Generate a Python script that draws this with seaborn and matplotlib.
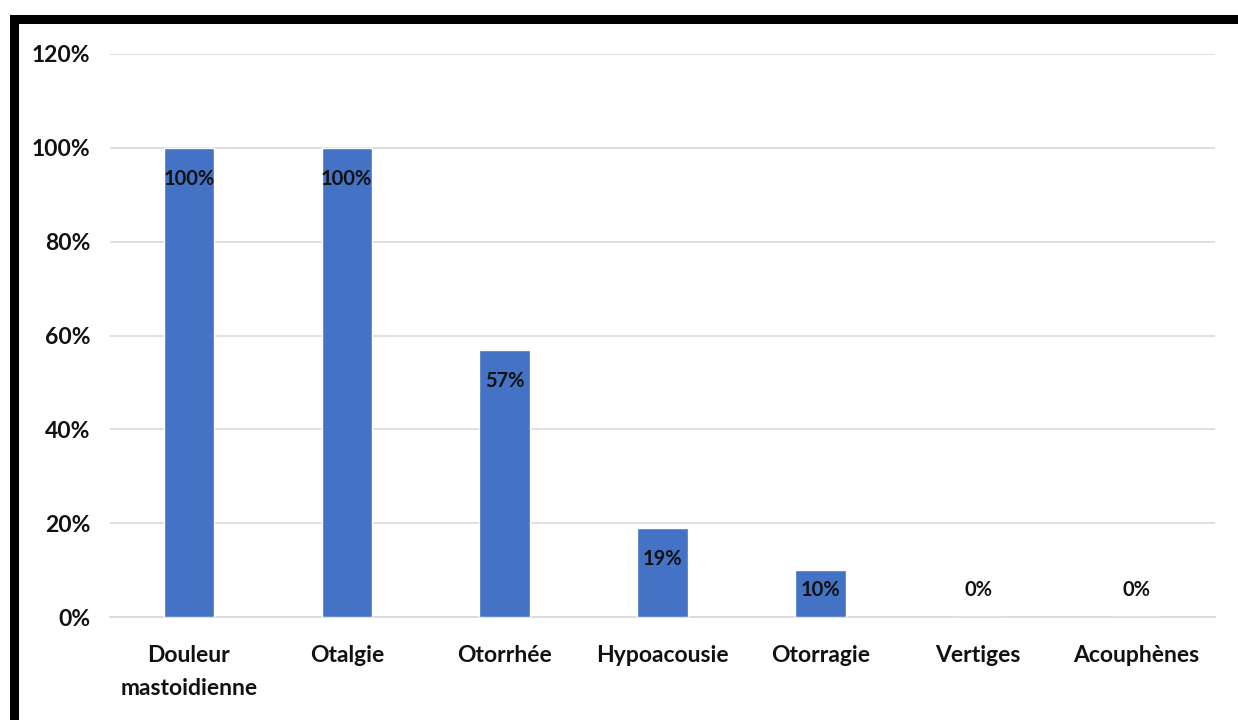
import matplotlib
matplotlib.use("Agg")
import matplotlib.pyplot as plt
from matplotlib.patches import Rectangle
import seaborn as sns
import pandas as pd

categories = ["Douleur\nmastoidienne", "Otalgie", "Otorrhée", "Hypoacousie",
              "Otorragie", "Vertiges", "Acouphènes"]
values = [100, 100, 57, 19, 10, 0, 0]
y_ticks = [0, 20, 40, 60, 80, 100, 120]
y_tick_labels = ["0%", "20%", "40%", "60%", "80%", "100%", "120%"]

df = pd.DataFrame({"symptome": categories, "pct": values})

sns.set_theme(style="white")
plt.rcParams["font.family"] = ["Lato", "DejaVu Sans"]

fig = plt.figure(figsize=(12.38, 7.2), dpi=100)
ax = fig.add_axes([110 / 1238, 1 - 617 / 720, 1105 / 1238, 563 / 720])

sns.barplot(data=df, x="symptome", y="pct", color="#4472C4", width=0.32,
            saturation=1, ax=ax, zorder=3)

ax.set_ylim(0, 120)
ax.set_xlim(-0.5, len(categories) - 0.5)
ax.set_yticks(y_ticks)
ax.set_yticklabels(y_tick_labels, fontsize=16.5, fontweight="bold", color="#111111")
ax.tick_params(axis="y", length=0, pad=14)
ax.tick_params(axis="x", length=0, pad=20)
for lbl in ax.get_xticklabels():
    lbl.set_fontsize(16.5)
    lbl.set_fontweight("bold")
    lbl.set_color("#111111")
    lbl.set_linespacing(1.7)
ax.set_xlabel("")
ax.set_ylabel("")
ax.yaxis.grid(True, color="#d9d9d9", linewidth=1.2, zorder=0)
for side in ["top", "right", "left"]:
    ax.spines[side].set_visible(False)
ax.spines["bottom"].set_color("#d9d9d9")
ax.spines["bottom"].set_linewidth(1.2)

# value labels just inside the bar tops
for i, v in enumerate(values):
    y = max(v - 6.6, 5.8)
    ax.text(i, y, f"{v}%", ha="center", va="center", fontsize=14.5,
            fontweight="bold", color="#111111", zorder=4)

# black frame around the chart
fig.patches.append(Rectangle((13.5 / 1238, -0.5), 2.0, 0.5 + (1 - 18.5 / 720),
                             transform=fig.transFigure, fill=False,
                             edgecolor="black", linewidth=6.5))

fig.savefig("out.png", dpi=100)
